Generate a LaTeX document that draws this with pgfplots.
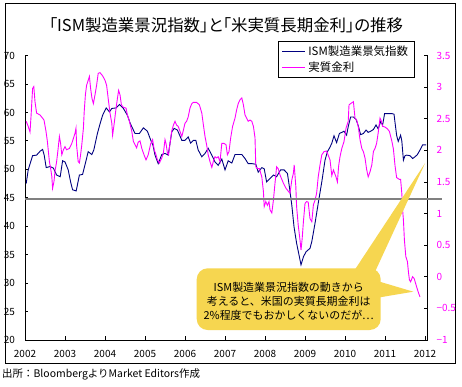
\documentclass[border=0pt]{standalone}
\usepackage{fontspec}
\setmainfont{Noto Sans CJK JP}
\newfontfamily\titlefont[RawFeature=+palt]{Noto Sans CJK JP}
\usepackage{pgfplots}
\pgfplotsset{compat=1.18}
\definecolor{ismblue}{RGB}{0,0,128}
\definecolor{realpink}{RGB}{255,0,255}
\definecolor{calloutyellow}{RGB}{246,214,80}
\definecolor{refgray}{RGB}{128,128,128}

\pgfplotstableread{
t v
2002.03 47.5
2002.08 49.9
2002.19 52.4
2002.29 52.5
2002.38 53.2
2002.44 53.5
2002.48 52.5
2002.53 50.3
2002.63 50.5
2002.71 50.2
2002.79 49.0
2002.88 48.7
2002.94 51.5
2003.00 51.3
2003.08 49.9
2003.14 47.8
2003.19 46.4
2003.28 46.2
2003.36 49.0
2003.44 49.1
2003.50 50.8
2003.58 53.1
2003.67 52.6
2003.72 53.4
2003.81 56.3
2003.88 58.1
2003.94 59.5
2004.03 60.8
2004.11 60.1
2004.17 60.7
2004.28 60.8
2004.36 61.4
2004.46 60.7
2004.56 59.5
2004.63 58.1
2004.75 56.3
2004.86 56.3
2004.96 57.3
2005.06 56.7
2005.14 55.2
2005.20 54.2
2005.25 52.5
2005.33 51.0
2005.42 52.6
2005.50 52.8
2005.58 52.5
2005.67 56.6
2005.73 57.2
2005.81 56.9
2005.86 56.1
2005.92 55.1
2006.00 55.1
2006.08 55.7
2006.14 54.6
2006.21 55.1
2006.27 55.1
2006.33 53.4
2006.42 52.2
2006.50 52.8
2006.58 53.7
2006.67 52.5
2006.75 51.3
2006.83 50.7
2006.92 51.8
2007.00 49.9
2007.08 51.5
2007.17 51.1
2007.25 52.6
2007.33 52.6
2007.42 52.6
2007.50 51.9
2007.58 51.0
2007.67 51.0
2007.77 50.9
2007.83 49.5
2007.92 50.3
2007.98 50.1
2008.04 47.8
2008.125 48.4
2008.21 49.0
2008.29 48.7
2008.39 49.9
2008.475 49.9
2008.56 49.3
2008.61 46.9
2008.67 43.7
2008.725 39.9
2008.79 37.0
2008.86 34.6
2008.90 33.2
2008.96 34.6
2009.025 35.5
2009.125 36.1
2009.17 37.3
2009.25 40.5
2009.33 44.0
2009.42 47.8
2009.50 51.6
2009.56 53.1
2009.625 53.9
2009.67 54.6
2009.725 55.9
2009.79 54.7
2009.86 56.3
2009.92 56.5
2009.975 56.7
2010.04 56.0
2010.08 57.5
2010.14 59.2
2010.21 59.2
2010.275 58.8
2010.33 57.7
2010.39 56.1
2010.46 56.3
2010.525 56.9
2010.58 56.5
2010.64 56.7
2010.71 57.0
2010.775 57.8
2010.83 57.1
2010.89 58.4
2010.94 57.8
2010.99 59.8
2011.08 59.8
2011.17 59.8
2011.225 59.7
2011.29 56.0
2011.33 54.9
2011.39 56.0
2011.42 55.0
2011.46 51.6
2011.50 52.4
2011.54 52.5
2011.625 52.4
2011.69 51.9
2011.75 52.2
2011.81 52.6
2011.875 53.4
2011.94 54.3
2012.03 54.3
}\ismdata

\pgfplotstableread{
t v
2002.03 2.46
2002.08 2.38
2002.125 2.29
2002.15 2.53
2002.19 2.98
2002.22 3.01
2002.25 2.77
2002.29 2.59
2002.375 2.56
2002.44 2.51
2002.475 2.48
2002.525 2.30
2002.56 2.14
2002.61 1.82
2002.64 1.72
2002.67 1.59
2002.69 1.40
2002.725 1.51
2002.75 1.67
2002.79 1.82
2002.82 1.98
2002.86 2.22
2002.89 2.11
2002.92 1.93
2002.96 2.01
2003.00 2.06
2003.04 2.01
2003.11 2.03
2003.17 2.11
2003.21 2.19
2003.25 2.27
2003.275 2.35
2003.29 2.08
2003.33 1.82
2003.36 1.80
2003.39 1.93
2003.42 2.09
2003.46 2.35
2003.48 2.61
2003.51 2.88
2003.54 3.03
2003.58 3.11
2003.61 3.17
2003.64 2.98
2003.675 2.82
2003.71 2.74
2003.75 2.88
2003.79 3.03
2003.83 3.22
2003.875 3.23
2003.94 3.18
2004.00 3.11
2004.04 3.03
2004.08 2.82
2004.125 2.59
2004.17 2.43
2004.19 2.24
2004.225 2.40
2004.275 2.66
2004.31 2.82
2004.34 2.95
2004.375 2.88
2004.41 2.72
2004.46 2.68
2004.525 2.67
2004.56 2.56
2004.61 2.46
2004.67 2.30
2004.71 2.14
2004.75 2.09
2004.79 2.04
2004.83 2.13
2004.875 2.15
2004.92 2.03
2004.975 1.93
2005.025 1.85
2005.08 1.93
2005.14 2.10
2005.19 2.17
2005.23 2.01
2005.275 1.93
2005.31 1.85
2005.36 1.80
2005.42 1.88
2005.46 1.96
2005.50 2.17
2005.525 2.11
2005.56 1.96
2005.59 1.93
2005.625 2.11
2005.67 2.31
2005.71 2.40
2005.75 2.46
2005.79 2.40
2005.83 2.38
2005.875 2.30
2005.92 2.22
2005.96 2.32
2006.00 2.43
2006.04 2.46
2006.08 2.53
2006.125 2.67
2006.17 2.74
2006.21 2.76
2006.29 2.76
2006.36 2.72
2006.42 2.59
2006.46 2.40
2006.50 2.22
2006.54 2.09
2006.58 1.93
2006.625 1.82
2006.67 1.73
2006.71 1.83
2006.75 1.90
2006.79 1.88
2006.83 1.90
2006.875 1.82
2006.92 2.11
2006.975 2.11
2007.025 2.09
2007.06 1.93
2007.10 1.98
2007.14 2.19
2007.19 2.38
2007.25 2.51
2007.29 2.64
2007.33 2.74
2007.375 2.80
2007.42 2.83
2007.46 2.72
2007.50 2.56
2007.54 2.51
2007.58 2.46
2007.625 2.48
2007.67 2.46
2007.71 2.38
2007.75 2.20
2007.77 1.74
2007.81 1.71
2007.86 1.71
2007.92 1.58
2007.96 1.35
2007.98 1.11
2008.02 1.19
2008.06 1.13
2008.10 1.19
2008.125 1.06
2008.17 1.01
2008.21 1.21
2008.25 1.48
2008.29 1.74
2008.33 1.71
2008.375 1.61
2008.46 1.48
2008.525 1.40
2008.585 1.35
2008.625 1.32
2008.67 1.53
2008.71 1.64
2008.73 1.77
2008.77 1.43
2008.79 1.11
2008.83 0.82
2008.875 0.58
2008.90 0.42
2008.93 0.61
2008.96 0.87
2009.00 1.16
2009.04 1.19
2009.08 1.18
2009.125 0.92
2009.17 0.87
2009.21 1.14
2009.25 1.21
2009.29 1.32
2009.33 1.58
2009.375 1.77
2009.42 1.93
2009.475 1.98
2009.54 1.99
2009.625 1.85
2009.67 1.60
2009.71 1.69
2009.775 1.58
2009.81 1.50
2009.84 1.75
2009.875 1.90
2009.92 2.03
2009.975 2.14
2010.025 2.35
2010.08 2.46
2010.10 2.72
2010.14 2.74
2010.21 2.77
2010.25 2.51
2010.29 2.48
2010.33 2.38
2010.375 2.17
2010.42 2.03
2010.46 1.98
2010.50 1.88
2010.54 1.70
2010.58 1.58
2010.625 1.66
2010.67 1.77
2010.71 1.98
2010.75 2.03
2010.79 2.11
2010.83 2.28
2010.875 2.51
2010.90 2.48
2010.94 2.38
2011.00 2.37
2011.06 2.34
2011.11 2.30
2011.17 2.15
2011.21 2.02
2011.25 1.76
2011.29 1.57
2011.36 1.54
2011.39 1.54
2011.42 1.32
2011.44 1.06
2011.46 0.90
2011.485 0.58
2011.52 0.32
2011.56 0.24
2011.585 0.08
2011.61 -0.05
2011.64 -0.08
2011.69 0.00
2011.73 -0.03
2011.79 -0.16
2011.84 -0.26
2011.875 -0.32
}\realdata

\begin{document}
\begin{tikzpicture}
\begin{scope}[x=1bp,y=1bp]
\path[use as bounding box] (0,0) rectangle (462,386);
\fill[white] (0,0) rectangle (462,386);
\draw[black, line width=1bp] (5,382) rectangle (455,23);
\node[font=\titlefont\fontsize{16.5}{18}\selectfont] at (226,361) {「ISM製造業景況指数」と「米実質長期金利」の推移};
\node[anchor=west, inner sep=0pt, font=\fontsize{10.5}{12}\selectfont] at (2,12) {出所：BloombergよりMarket Editors作成};
\end{scope}

\begin{axis}[
  at={(25bp,46.1bp)}, anchor=south west,
  scale only axis, width=402.5bp, height=284.3bp,
  xmin=2002, xmax=2012.0625,
  ymin=20, ymax=70,
  axis y line*=left, axis x line*=bottom,
  axis line style={black, line width=0.8bp},
  tick align=inside, major tick length=3.5bp,
  tick style={black, line width=0.8bp},
  xtick={2002,2003,2004,2005,2006,2007,2008,2009,2010,2011,2012},
  xticklabels={2002,2003,2004,2005,2006,2007,2008,2009,2010,2011,2012},
  ytick={20,25,30,35,40,45,50,55,60,65,70},
  yticklabels={20,25,30,35,40,45,50,55,60,65,70},
  ticklabel style={font=\fontsize{10}{12}\selectfont},
  yticklabel style={xshift=-6.5bp},
  xticklabel style={yshift=-7bp},
  clip=false,
]
\addplot[ismblue, line width=0.9bp] table[x=t,y=v] {\ismdata};
\end{axis}

\begin{axis}[
  at={(25bp,46.1bp)}, anchor=south west,
  scale only axis, width=402.5bp, height=284.3bp,
  xmin=2002, xmax=2012.0625,
  ymin=-1, ymax=3.5,
  axis y line*=right, axis x line=none,
  axis line style={black, line width=0.8bp},
  tick align=inside, major tick length=3.5bp,
  tick style={black, line width=0.8bp},
  xtick=\empty,
  ytick={-1,-0.5,0,0.5,1,1.5,2,2.5,3,3.5},
  yticklabels={−1,−0.5,0,0.5,1,1.5,2,2.5,3,3.5},
  yticklabel style={font=\fontsize{10}{12}\selectfont, text=realpink, xshift=5.5bp},
  clip=false,
  legend style={at={(0.969,1.0513)}, anchor=north east, draw=black, line width=0.9bp,
    fill=white, inner xsep=4bp, inner ysep=2bp, row sep=0bp,
    nodes={inner sep=2.5bp, font=\fontsize{11.5}{13}\selectfont}},
  legend cell align=left,
  legend image code/.code={\draw[#1] (0bp,0bp) -- (23bp,0bp);},
]
\addlegendimage{ismblue, line width=0.9bp}
\addlegendentry{ISM製造業景気指数}
\addplot[realpink, line width=0.9bp] table[x=t,y=v] {\realdata};
\addlegendentry{実質金利}
\draw[refgray, line width=2.2bp] (rel axis cs:0,0.4945) -- (rel axis cs:1.036,0.4945);
\end{axis}

\begin{scope}[x=1bp,y=1bp]
\fill[calloutyellow, rounded corners=11bp] (196.7,117.7) rectangle (380.7,56);
\fill[calloutyellow] (352,112) -- (425,222.7) -- (374,112) -- cycle;
\fill[calloutyellow] (374,106) -- (413.3,94.3) -- (374,87.7) -- cycle;
\node[align=center, font=\fontsize{11}{14.2}\selectfont] at (288.7,85) {ISM製造業景況指数の動きから\\考えると、米国の実質長期金利は\\2\%程度でもおかしくないのだが…};
\end{scope}
\end{tikzpicture}
\end{document}
